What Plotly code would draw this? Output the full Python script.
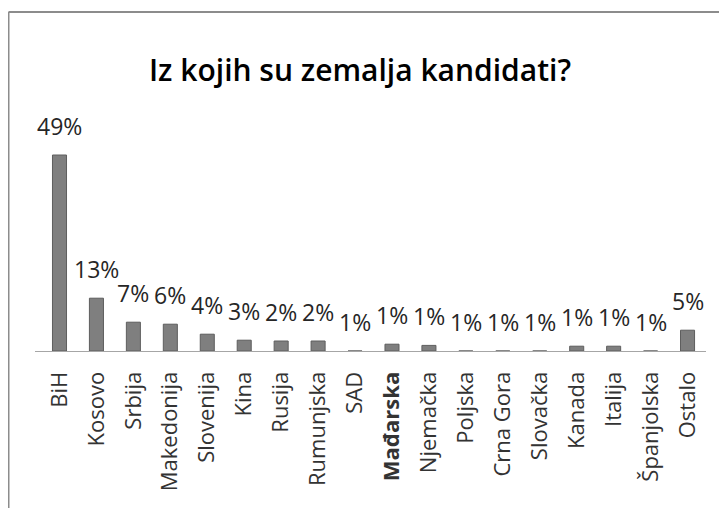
import plotly.graph_objects as go

countries = ["BiH", "Kosovo", "Srbija", "Makedonija", "Slovenija", "Kina", "Rusija",
             "Rumunjska", "SAD", "Mađarska", "Njemačka", "Poljska", "Crna Gora",
             "Slovačka", "Kanada", "Italija", "Španjolska", "Ostalo"]
bar_heights = [49, 13.2, 7.2, 6.7, 4.2, 2.7, 2.5, 2.5, 0, 1.7, 1.4, 0, 0, 0, 1.2, 1.2, 0, 5.2]
label_texts = ["49%", "13%", "7%", "6%", "4%", "3%", "2%", "2%", "1%", "1%", "1%", "1%",
               "1%", "1%", "1%", "1%", "1%", "5%"]
tick_texts = [("<b>%s</b>" % c) if c == "Mađarska" else c for c in countries]

# page body has an 8px margin, so the figure is drawn from (8, 8)
W, H = 719, 500
L, R, T, B = 27, 21, 103, 157
pw, ph = W - L - R, H - T - B

fig = go.Figure()
fig.add_trace(go.Bar(
    x=countries, y=bar_heights,
    marker=dict(color="#7f7f7f", line=dict(color="#5e5e5e", width=1)),
    width=0.38, hoverinfo="skip",
))

for c, h, t in zip(countries, bar_heights, label_texts):
    fig.add_annotation(x=c, y=h, text=t, showarrow=False, yanchor="bottom",
                       yshift=11, font=dict(family="Open Sans", size=23, color="#262626"))

def px_x(p):
    return (p - L) / pw

def px_y(p):
    return (H - B - p) / ph

frame = dict(color="#8c8c8c", width=2)
fig.add_shape(type="line", xref="paper", yref="paper", x0=px_x(0.5), x1=px_x(740),
              y0=px_y(4), y1=px_y(4), line=frame)
fig.add_shape(type="line", xref="paper", yref="paper", x0=px_x(0.5), x1=px_x(0.5),
              y0=px_y(4), y1=px_y(520), line=frame)

fig.update_layout(
    width=W, height=H,
    margin=dict(l=L, r=R, t=T, b=B),
    paper_bgcolor="white", plot_bgcolor="white",
    showlegend=False,
    title=dict(text="Iz kojih su zemalja kandidati?", x=(360 - 8) / W, xanchor="center",
               xref="container",
               y=1 - 62 / H, yanchor="middle", yref="container",
               font=dict(family="Open Sans", size=30, color="#000000", weight=600)),
    xaxis=dict(tickmode="array", tickvals=countries, ticktext=tick_texts,
               tickangle=-90, showline=True, linecolor="#a6a6a6", linewidth=1,
               ticks="", showgrid=False, ticklabelstandoff=11,
               tickfont=dict(family="Open Sans", size=22, color="#333333")),
    yaxis=dict(range=[0, 60], visible=False, showgrid=False, zeroline=False),
    bargap=0.62,
)

fig.write_html("out.html")
